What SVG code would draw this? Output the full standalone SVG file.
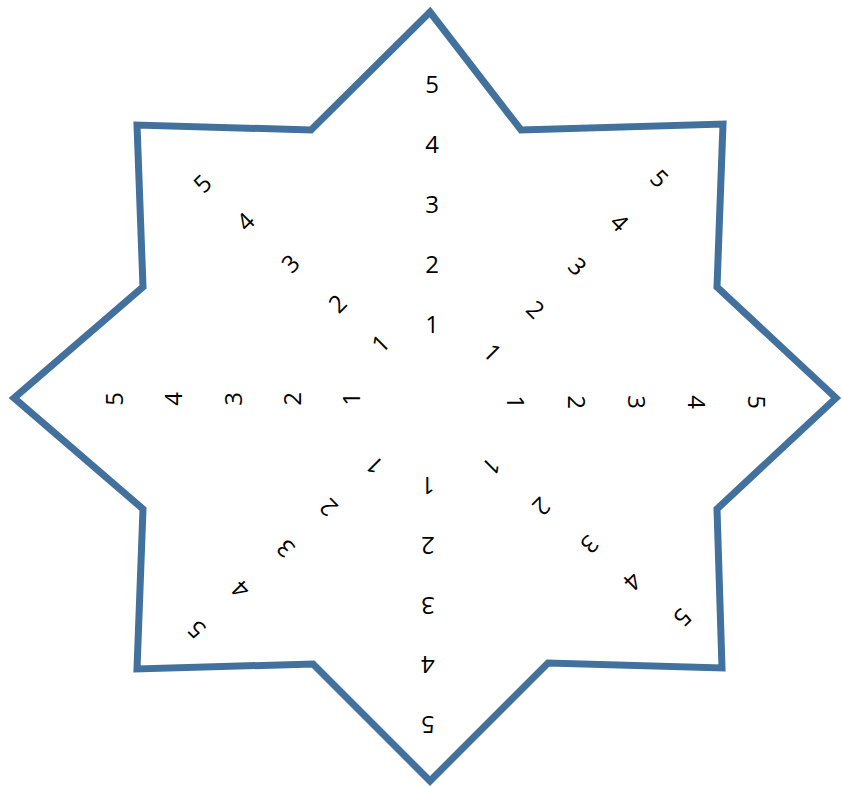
<svg xmlns="http://www.w3.org/2000/svg" width="842" height="787" viewBox="0 0 842 787">
<style>
.star{fill:#fff;stroke:#41719C;stroke-width:7;stroke-linejoin:miter}
.n{font-family:"Open Sans","Liberation Sans",sans-serif;font-size:24px;fill:#000;text-anchor:middle;dominant-baseline:central}
</style>
<rect width="842" height="787" fill="#fff"/>
<g id="star">
<path class="star" d="M430,12 L521,130 L723,124 L717,287 L836,398 L717,509 L722,668 L548,663 L430,781 L313,664 L137,669 L143,509 L14,398 L143,287 L137,125 L311,130 Z"/>
</g>
<g id="ray-top">
<text class="n" transform="translate(432,323)">1</text>
<text class="n" transform="translate(432,263)">2</text>
<text class="n" transform="translate(432,203)">3</text>
<text class="n" transform="translate(432,143)">4</text>
<text class="n" transform="translate(432,83)">5</text>
</g>
<g id="ray-right">
<text class="n" transform="translate(516,402) rotate(90)">1</text>
<text class="n" transform="translate(577,402) rotate(90)">2</text>
<text class="n" transform="translate(637,402) rotate(90)">3</text>
<text class="n" transform="translate(697,402) rotate(90)">4</text>
<text class="n" transform="translate(757,402) rotate(90)">5</text>
</g>
<g id="ray-left">
<text class="n" transform="translate(350,399) rotate(-90)">1</text>
<text class="n" transform="translate(291,399) rotate(-90)">2</text>
<text class="n" transform="translate(232,399) rotate(-90)">3</text>
<text class="n" transform="translate(172,399) rotate(-90)">4</text>
<text class="n" transform="translate(113,399) rotate(-90)">5</text>
</g>
<g id="ray-bottom">
<text class="n" transform="translate(428,486) rotate(180)">1</text>
<text class="n" transform="translate(428,546) rotate(180)">2</text>
<text class="n" transform="translate(428,606) rotate(180)">3</text>
<text class="n" transform="translate(428,665) rotate(180)">4</text>
<text class="n" transform="translate(428,725) rotate(180)">5</text>
</g>
<g id="ray-top-right">
<text class="n" transform="translate(493,352) rotate(45)">1</text>
<text class="n" transform="translate(536,309) rotate(45)">2</text>
<text class="n" transform="translate(578,266) rotate(45)">3</text>
<text class="n" transform="translate(620,222) rotate(45)">4</text>
<text class="n" transform="translate(660,178) rotate(45)">5</text>
</g>
<g id="ray-top-left">
<text class="n" transform="translate(380,343) rotate(-45)">1</text>
<text class="n" transform="translate(337,303) rotate(-45)">2</text>
<text class="n" transform="translate(290,263) rotate(-45)">3</text>
<text class="n" transform="translate(245,221) rotate(-45)">4</text>
<text class="n" transform="translate(202,183) rotate(-45)">5</text>
</g>
<g id="ray-bottom-left">
<text class="n" transform="translate(374,466) rotate(-135)">1</text>
<text class="n" transform="translate(328,508) rotate(-135)">2</text>
<text class="n" transform="translate(285,549) rotate(-135)">3</text>
<text class="n" transform="translate(240,590) rotate(-135)">4</text>
<text class="n" transform="translate(196,630) rotate(-135)">5</text>
</g>
<g id="ray-bottom-right">
<text class="n" transform="translate(492,467) rotate(135)">1</text>
<text class="n" transform="translate(542,507) rotate(135)">2</text>
<text class="n" transform="translate(590,545) rotate(135)">3</text>
<text class="n" transform="translate(633,582) rotate(135)">4</text>
<text class="n" transform="translate(683,618) rotate(135)">5</text>
</g>
</svg>
